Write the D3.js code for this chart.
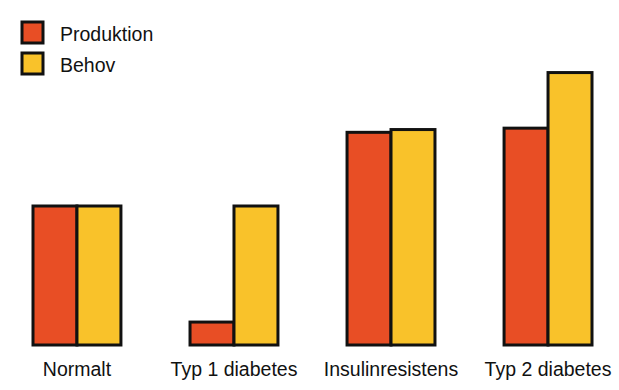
<!DOCTYPE html>
<html>
<head>
<meta charset="utf-8">
<script src="https://cdn.jsdelivr.net/npm/d3@7"></script>
<style>
  body { margin: 0; background: #fff; }
  text { font-family: "Liberation Sans", Arial, sans-serif; fill: #111; }
</style>
</head>
<body>
<div id="chart"></div>
<script>
// Data (Normalt = 100)
const categories = ["Normalt", "Typ 1 diabetes", "Insulinresistens", "Typ 2 diabetes"];
const seriesNames = ["Produktion", "Behov"];
const produktion = [100, 16.5, 153, 156];
const behov = [100, 100, 155, 196];

const colors = ["#e84e25", "#f9c22a"];

const width = 619, height = 390;

const svg = d3.select("#chart")
  .append("svg")
    .attr("width", width)
    .attr("height", height);

// Scales
const x0 = d3.scaleBand()
  .domain(categories)
  .range([33, 592])
  .paddingInner(0.44)
  .paddingOuter(0);

const x1 = d3.scaleBand()
  .domain(seriesNames)
  .range([0, x0.bandwidth()])
  .padding(0);

const y = d3.scaleLinear()
  .domain([0, 200])
  .range([345, 67]);

const color = d3.scaleOrdinal()
  .domain(seriesNames)
  .range(colors);

const rows = [];
categories.forEach((c, i) => {
  rows.push({cat: c, series: "Produktion", value: produktion[i]});
  rows.push({cat: c, series: "Behov", value: behov[i]});
});

// Bars
svg.append("g")
  .selectAll("rect")
  .data(rows)
  .enter().append("rect")
    .attr("x", d => x0(d.cat) + x1(d.series))
    .attr("y", d => y(d.value))
    .attr("width", x1.bandwidth())
    .attr("height", d => y(0) - y(d.value))
    .attr("fill", d => color(d.series))
    .attr("stroke", "#111")
    .attr("stroke-width", 3);

// Category labels
svg.append("g")
  .selectAll("text")
  .data(categories)
  .enter().append("text")
    .attr("x", d => x0(d) + x0.bandwidth() / 2)
    .attr("y", 376)
    .attr("text-anchor", "middle")
    .style("font-size", "19.5px")
    .text(d => d);

// Legend
const legend = svg.append("g")
  .attr("transform", "translate(22,22)");

seriesNames.forEach((name, i) => {
  const g = legend.append("g")
    .attr("transform", `translate(0, ${i * 31})`);

  g.append("rect")
    .attr("x", 0)
    .attr("y", 0)
    .attr("width", 21)
    .attr("height", 21)
    .attr("fill", color(name))
    .attr("stroke", "#111")
    .attr("stroke-width", 3);

  g.append("text")
    .attr("x", 38)
    .attr("y", 19)
    .style("font-size", "19.5px")
    .text(name);
});
</script>
</body>
</html>
